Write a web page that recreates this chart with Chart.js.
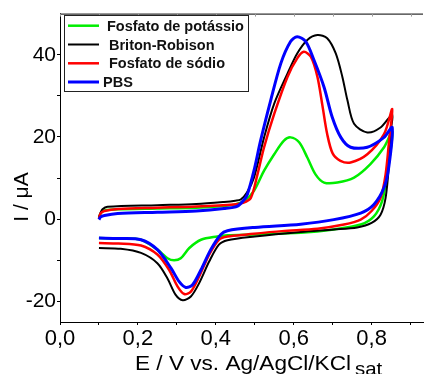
<!DOCTYPE html>
<html>
<head>
<meta charset="utf-8">
<script src="https://cdn.jsdelivr.net/npm/chart.js@4/dist/chart.umd.min.js"></script>
<style>
  body { margin: 0; background: #fff; }
  canvas { display: block; }
</style>
</head>
<body>
<canvas id="cv" width="424" height="374"></canvas>
<script>
// series labels, in legend order
var seriesNames = ["Fosfato de potássio", "Briton-Robison", "Fosfato de sódio", "PBS"];

// potential (V) and current (uA): forward scan then reverse scan
var potassioE = [0.100,0.105,0.114,0.150,0.250,0.350,0.420,0.450,0.473,0.498,0.524,0.550,0.575,0.592,0.614,0.635,0.656,0.678,0.712,0.755,0.797,0.832,0.853,
                 0.845,0.840,0.827,0.806,0.772,0.703,0.618,0.500,0.430,0.404,0.362,0.332,0.310,0.293,0.276,0.250,0.208,0.156,0.100];
var potassioI = [0.3,1.5,2.1,2.4,2.6,2.8,3.2,3.6,4.4,6.9,11.8,15.8,19.1,19.9,18.7,15.0,10.9,8.9,8.9,10.1,13.4,17.5,21.3,
                 14.0,10.9,4.4,0.7,-1.3,-2.5,-3.3,-3.7,-3.9,-4.2,-5.0,-7.0,-9.5,-10.0,-9.5,-7.4,-5.0,-4.7,-4.6];

var britonE = [0.100,0.104,0.109,0.122,0.250,0.350,0.421,0.450,0.464,0.480,0.498,0.524,0.550,0.584,0.609,0.635,0.661,0.686,0.708,0.725,0.738,0.755,0.789,0.823,0.853,
               0.849,0.844,0.836,0.823,0.800,0.763,0.703,0.618,0.500,0.430,0.408,0.383,0.357,0.336,0.315,0.297,0.276,0.250,0.208,0.156,0.100];
var britonI = [0.5,1.5,2.4,3.0,3.4,3.7,4.2,4.5,4.8,6.5,10.1,19.9,28.1,35.4,40.3,43.6,44.8,44.0,40.3,34.6,28.9,23.2,21.1,22.3,25.4,
               21.5,12.6,5.2,1.1,-0.9,-2.0,-2.5,-3.1,-4.2,-5.1,-6.2,-10.3,-15.6,-18.8,-19.7,-18.4,-14.4,-10.7,-8.2,-7.2,-7.0];

var sodioE = [0.100,0.104,0.114,0.150,0.250,0.350,0.447,0.470,0.490,0.507,0.524,0.550,0.584,0.609,0.626,0.644,0.661,0.674,0.686,0.700,0.720,0.746,0.789,0.832,0.853,
              0.845,0.836,0.823,0.800,0.772,0.729,0.661,0.570,0.480,0.430,0.408,0.383,0.357,0.336,0.319,0.302,0.280,0.250,0.208,0.150,0.100];
var sodioI = [0.0,1.4,2.0,2.5,2.8,3.1,3.6,4.0,5.2,10.9,17.5,25.6,34.6,39.1,40.7,39.5,34.6,27.5,20.7,16.0,14.2,13.8,15.8,20.7,26.8,
              19.1,10.9,5.2,2.0,-0.1,-1.3,-2.3,-2.9,-3.7,-4.2,-5.0,-8.6,-14.0,-17.6,-18.2,-16.4,-12.3,-8.6,-6.4,-5.9,-5.8];

var pbsE = [0.100,0.104,0.114,0.148,0.250,0.350,0.421,0.456,0.473,0.481,0.498,0.515,0.541,0.567,0.592,0.609,0.631,0.652,0.678,0.699,0.721,0.746,0.789,0.832,0.853,
            0.844,0.832,0.806,0.772,0.703,0.618,0.500,0.430,0.413,0.387,0.362,0.340,0.323,0.306,0.285,0.250,0.208,0.150,0.100];
var pbsI = [-0.1,0.5,0.9,1.4,1.7,2.0,2.6,3.2,4.8,6.0,11.8,19.1,28.9,37.9,43.2,44.4,43.2,38.7,32.1,24.8,19.9,17.5,17.5,19.9,22.3,
            12.6,7.7,3.6,1.5,-0.1,-1.2,-2.0,-2.8,-3.7,-7.4,-12.3,-16.0,-16.6,-15.2,-11.9,-7.4,-5.0,-4.7,-4.6];

// axis ticks
var xTicks = [0, 0.1, 0.2, 0.3, 0.4, 0.5, 0.6, 0.7, 0.8, 0.9];
var xLabels = ["0,0", "", "0,2", "", "0,4", "", "0,6", "", "0,8", ""];
var yTicks = [-20, -10, 0, 10, 20, 30, 40];
var yLabels = ["-20", "", "0", "", "20", "", "40"];

function pts(xs, ys) {
  return xs.map(function (x, i) { return { x: x, y: ys[i] }; });
}

var legendBox = {
  id: "legendBox",
  afterDraw: function (chart) {
    var ctx = chart.ctx, a = chart.chartArea;
    ctx.save();
    // top frame line + its ticks
    ctx.strokeStyle = "#000";
    ctx.lineWidth = 1;
    ctx.beginPath();
    ctx.moveTo(a.left, a.top + 0.5);
    ctx.lineTo(a.right, a.top + 0.5);
    ctx.stroke();
    ctx.strokeStyle = "#999";
    var xs = chart.scales.x;
    xTicks.forEach(function (t) {
      var px = Math.round(xs.getPixelForValue(t)) + 0.5;
      ctx.beginPath();
      ctx.moveTo(px, a.top);
      ctx.lineTo(px, a.top + 3);
      ctx.stroke();
    });

    // legend
    ctx.fillStyle = "#fff";
    ctx.fillRect(64.5, 15.5, 184, 76);
    ctx.strokeStyle = "#222";
    ctx.lineWidth = 1;
    ctx.strokeRect(64.5, 15.5, 184, 76);
    var rowY = [25.7, 44.5, 63.3, 82];
    var textX = [107, 109, 109, 103];
    ctx.font = "bold 14.5px 'Liberation Sans', Arial, sans-serif";
    ctx.textBaseline = "middle";
    var k = Math.min(1, 137 / ctx.measureText(seriesNames[0]).width);
    chart.data.datasets.forEach(function (ds, i) {
      ctx.strokeStyle = ds.borderColor;
      ctx.lineWidth = ds.borderWidth;
      ctx.beginPath();
      ctx.moveTo(68, rowY[i]);
      ctx.lineTo(99, rowY[i]);
      ctx.stroke();
      ctx.save();
      ctx.translate(textX[i], rowY[i] + 1);
      ctx.scale(k, 1);
      ctx.fillStyle = "#111";
      ctx.fillText(ds.label, 0, 0);
      ctx.restore();
    });

    // axis titles
    ctx.fillStyle = "#000";
    ctx.textBaseline = "alphabetic";
    ctx.font = "21px 'Liberation Sans', Arial, sans-serif";
    var main = "E / V vs. Ag/AgCl/KCl";
    var w = ctx.measureText(main).width;
    var sx = 216 / w;
    ctx.save();
    ctx.translate(135, 370);
    ctx.scale(sx, 1);
    ctx.fillText(main, 0, 0);
    ctx.font = "19px 'Liberation Sans', Arial, sans-serif";
    ctx.fillText("sat", (355 - 135) / sx, 5);
    ctx.restore();

    ctx.save();
    ctx.translate(28, 197);
    ctx.rotate(-Math.PI / 2);
    ctx.textAlign = "center";
    ctx.font = "21px 'Liberation Sans', Arial, sans-serif";
    ctx.fillText("I / \u03bcA", 0, 0);
    ctx.restore();
    ctx.restore();
  }
};

Chart.defaults.font.family = "'Liberation Sans', Arial, sans-serif";
Chart.defaults.color = "#000";

new Chart(document.getElementById("cv"), {
  type: "scatter",
  data: {
    datasets: [
      { label: seriesNames[0], data: pts(potassioE, potassioI), borderColor: "#00ee00", borderWidth: 2.5, order: 3 },
      { label: seriesNames[1], data: pts(britonE, britonI), borderColor: "#000000", borderWidth: 2, order: 2 },
      { label: seriesNames[2], data: pts(sodioE, sodioI), borderColor: "#ff0000", borderWidth: 2.5, order: 1 },
      { label: seriesNames[3], data: pts(pbsE, pbsI), borderColor: "#0000ff", borderWidth: 3, order: 0 }
    ]
  },
  options: {
    responsive: false,
    animation: false,
    devicePixelRatio: 1,
    showLine: true,
    elements: {
      point: { radius: 0 },
      line: { tension: 0.3, fill: false }
    },
    layout: { padding: { left: 0, right: 1, top: 13, bottom: 0 } },
    plugins: { legend: { display: false }, tooltip: { enabled: false } },
    scales: {
      x: {
        type: "linear",
        min: 0,
        max: 0.932,
        afterBuildTicks: function (s) { s.ticks = xTicks.map(function (v) { return { value: v }; }); },
        afterFit: function (s) { s.height = 52; },
        ticks: {
          autoSkip: false,
          maxRotation: 0,
          padding: 1,
          font: { size: 22 },
          callback: function (v, i) { return xLabels[i]; }
        },
        grid: { drawOnChartArea: false, tickLength: 3, color: "#000" },
        border: { display: true, color: "#000", width: 1 },
        title: { display: false }
      },
      y: {
        type: "linear",
        min: -25,
        max: 50,
        afterBuildTicks: function (s) { s.ticks = yTicks.map(function (v) { return { value: v }; }); },
        afterFit: function (s) { s.width = 60; },
        ticks: {
          autoSkip: false,
          padding: 1,
          font: { size: 21 },
          callback: function (v, i) { return yLabels[i]; }
        },
        grid: { drawOnChartArea: false, tickLength: 3, color: "#000" },
        border: { display: true, color: "#000", width: 1 },
        title: { display: false }
      }
    }
  },
  plugins: [legendBox]
});
</script>
</body>
</html>
